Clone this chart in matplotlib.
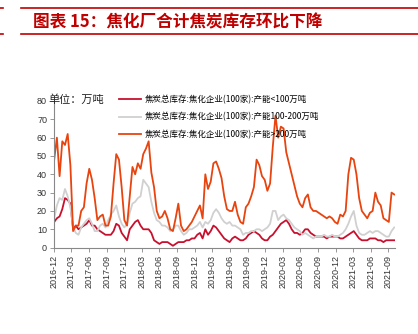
import numpy as np
import pandas as pd
import matplotlib
matplotlib.use('Agg')
import matplotlib.pyplot as plt
import matplotlib.dates as mdates
from matplotlib.lines import Line2D

plt.rcParams['font.family'] = ['Liberation Sans', 'Noto Sans CJK SC', 'DejaVu Sans']

# biweekly readings, starting 2016-12-02
start_date = '2016-12-02'
small_cap = [14, 16, 17, 21, 27, 26, 24, 10, 12, 10, 11, 12, 13, 15, 12, 12, 10, 9, 8, 7,
             7, 7, 9, 13, 12, 8, 6, 4, 10, 12, 14, 15, 12, 10, 10, 10, 8, 4, 3, 2,
             3, 3, 3, 2, 1, 2, 3, 3, 3, 4, 4, 5, 5, 7, 8, 5, 10, 7, 9, 12,
             11, 9, 7, 5, 4, 3,
             5, 6, 5, 4, 4, 5, 7, 8, 9, 8, 7, 5, 4, 4, 6, 7, 9, 11, 13, 14,
             15, 13, 10, 8, 8, 7, 8, 10, 10, 8, 7, 6, 6, 6, 6, 5, 6, 6, 6, 6,
             5, 5, 6, 7, 8, 9, 7, 5, 4, 4, 4, 5, 5, 5, 4, 4, 3, 4, 4, 4, 4]
mid_cap = [16, 23, 27, 26, 32, 28, 22, 11, 8, 7, 11, 13, 15, 16, 13, 9, 9, 12, 13, 11,
           15, 18, 20, 23, 17, 13, 11, 13, 19, 24, 25, 27, 28, 37, 35, 33, 25, 19, 15, 14,
           12, 12, 11, 9, 10, 12, 12, 9, 7, 8, 10, 10, 11, 12, 14, 11, 14, 13, 15, 19,
           21, 19, 16, 14, 13, 14,
           12, 12, 11, 10, 7, 8, 8, 9, 9, 10, 10, 9, 10, 11, 13, 20, 20, 15, 17, 18,
           16, 15, 13, 11, 10, 9, 7, 8, 7, 6, 5, 6, 6, 6, 7, 6, 6, 7, 6, 6,
           7, 8, 10, 13, 17, 20, 12, 8, 7, 7, 8, 9, 8, 9, 9, 8, 7, 6, 6, 9, 11]
big_cap = [48, 60, 39, 58, 56, 62, 45, 9, 12, 12, 20, 22, 35, 43, 37, 27, 15, 17, 18, 12,
           12, 17, 35, 51, 48, 33, 15, 12, 28, 44, 40, 46, 43, 51, 54, 58, 41, 33, 20, 16,
           17, 20, 16, 10, 9, 16, 24, 12, 9, 10, 12, 14, 17, 20, 23, 16, 40, 32, 36, 46,
           47, 43, 38, 28, 21, 20,
           20, 25, 18, 14, 13, 22, 24, 28, 33, 48, 45, 39, 37, 31, 35, 55, 72, 60, 66, 65,
           52, 46, 40, 34, 28, 24, 22, 27, 29, 22, 20, 20, 19, 18, 17, 16, 17, 16, 14, 13,
           18, 17, 20, 40, 49, 48, 40, 27, 20, 18, 16, 19, 20, 30, 25, 23, 16, 15, 14, 30, 29]

labels = ['焦炭总库存:焦化企业(100家):产能<100万吨',
          '焦炭总库存:焦化企业(100家):产能100-200万吨',
          '焦炭总库存:焦化企业(100家):产能>200万吨']
colors = ['#C8102E', '#D0D0D0', '#E8440F']

dates = pd.date_range(start_date, periods=len(big_cap), freq='14D')

fig = plt.figure(figsize=(4.18, 3.34), dpi=100)
ax = fig.add_axes([54 / 418, 1 - 247.6 / 334, (395 - 54) / 418, (247.6 - 101) / 334])

for series, color, label in zip([small_cap, mid_cap, big_cap], colors, labels):
    ax.plot(dates, series, color=color, linewidth=1.3, label=label)

ax.set_ylim(0, 80)
ax.set_yticks(range(0, 81, 10))
ax.set_xlim(pd.Timestamp('2016-12-01'), dates[-1] + pd.Timedelta(days=4))
ax.xaxis.set_major_locator(mdates.MonthLocator(bymonth=[3, 6, 9, 12]))
ax.xaxis.set_major_formatter(mdates.DateFormatter('%Y-%m'))
for lab in ax.get_xticklabels():
    lab.set_rotation(90)
ax.tick_params(axis='both', labelsize=6.5, colors='#888888', labelcolor='#333333',
               length=3, width=0.6, pad=2)
for side in ['top', 'right']:
    ax.spines[side].set_visible(False)
for side in ['left', 'bottom']:
    ax.spines[side].set_color('#888888')
    ax.spines[side].set_linewidth(0.8)

ax.legend(loc='upper left', bbox_to_anchor=(119 / 418, 1 - 95 / 334),
          bbox_transform=fig.transFigure, frameon=False,
          handlelength=2.6, handletextpad=0.45, labelspacing=0.95,
          borderpad=0, borderaxespad=0, prop={'family': ['Noto Sans CJK SC'], 'size': 6.1})

fig.text(48 / 418, 1 - 100 / 334, '单位：万吨', fontsize=8, color='#222222',
         family=['Noto Sans CJK SC'], va='center', ha='left')

# header
fig.text(33 / 418, 1 - 22 / 334, '图表 15：焦化厂合计焦炭库存环比下降', fontsize=12,
         color='#C00000', fontweight='bold', style='italic',
         family=['Noto Sans CJK SC'], va='center', ha='left')
for yy in [7.5, 33.5]:
    fig.add_artist(Line2D([21 / 418, 1], [1 - yy / 334] * 2, color='#C00000', linewidth=1.2))
    fig.add_artist(Line2D([0, 3 / 418], [1 - yy / 334] * 2, color='#C00000', linewidth=1.2))

fig.savefig('out.png', dpi=100)
